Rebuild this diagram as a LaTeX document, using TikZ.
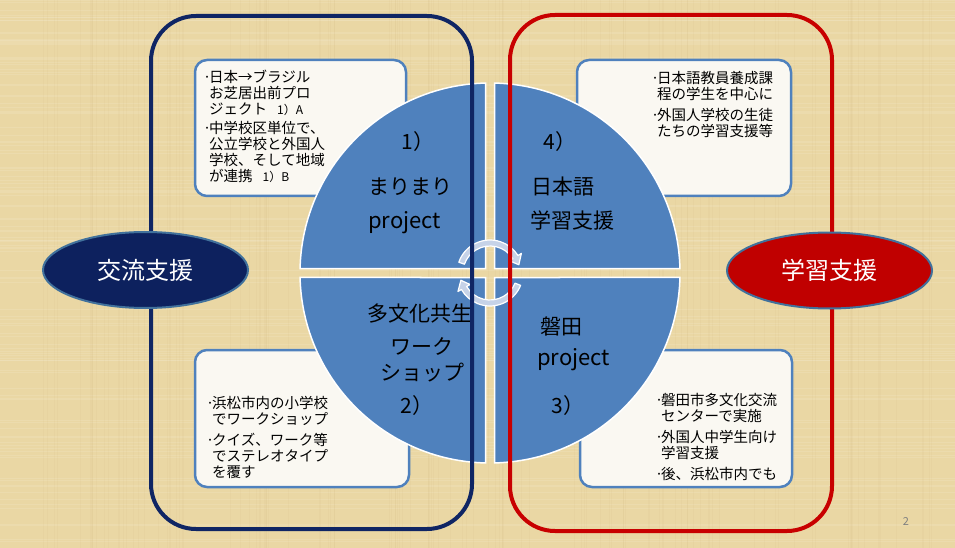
\documentclass[tikz,border=0pt]{standalone}
\usepackage{fontspec}
\setmainfont{Noto Sans CJK JP}
\usetikzlibrary{shapes.geometric}
\definecolor{bg}{RGB}{234,215,164}
\definecolor{qblue}{RGB}{79,129,189}
\definecolor{boxfill}{RGB}{250,248,242}
\definecolor{navy}{RGB}{15,37,100}
\definecolor{dred}{RGB}{200,0,0}
\definecolor{ellnavy}{RGB}{13,33,94}
\definecolor{ellred}{RGB}{192,0,0}
\definecolor{ellborder}{RGB}{65,113,156}
\definecolor{arrowfill}{RGB}{198,211,232}
\definecolor{grain}{RGB}{190,160,100}
\newcommand\bul{\makebox[6pt][l]{·}}
\newcommand\ind{\hspace*{6pt}}
\newcommand\smallnote[1]{{\fontsize{12}{12}\selectfont\hspace{10pt}#1}}
\begin{document}
\begin{tikzpicture}[x=1pt,y=-1pt,
  infobox/.style={draw=qblue, line width=2.5pt, fill=boxfill, rounded corners=12pt},
  quad/.style={fill=qblue, draw=white, line width=1.5pt},
  boxtext/.style={anchor=north west, inner sep=0pt, align=left, font=\fontsize{14.5}{16}\selectfont},
  qtext/.style={anchor=base, inner sep=0pt, font=\fontsize{21}{21}\selectfont},
  ptext/.style={anchor=base west, inner sep=0pt, font=\fontsize{22}{22}\selectfont},
  bigframe/.style={line width=4pt, rounded corners=45pt},
  tag/.style={ellipse, minimum width=205pt, minimum height=76pt, draw=ellborder, line width=2pt, text=white, font=\fontsize{24}{24}\selectfont, inner sep=0pt},
  cyc/.style={fill=arrowfill, draw=white, line width=1.2pt, line join=round}
]
\useasboundingbox (0,0) rectangle (955,548);
\fill[bg] (0,0) rectangle (955,548);
\pgfmathsetseed{7}
\foreach \i in {1,...,110}{\pgfmathsetmacro\yy{rnd*548}\pgfmathsetmacro\ww{0.3+rnd*1.0}\draw[white,opacity=0.10,line width=\ww pt] (0,\yy)--(955,\yy);}
\foreach \i in {1,...,110}{\pgfmathsetmacro\xx{rnd*955}\pgfmathsetmacro\ww{0.3+rnd*1.0}\draw[grain,opacity=0.06,line width=\ww pt] (\xx,0)--(\xx,548);}

% info boxes
\draw[infobox] (195,60) rectangle (406,196);
\draw[infobox] (577,60) rectangle (791,196);
\draw[infobox] (195,350) rectangle (409,487);
\draw[infobox] (580,350) rectangle (792,487);

% quadrants
\begin{scope}[shift={(490,273)}]
\filldraw[quad] (-4.5,-4.5) -- (268.643:190) arc[start angle=268.643, end angle=181.357, radius=190] -- cycle;
\filldraw[quad] (4.5,-4.5) -- (271.357:190) arc[start angle=271.357, end angle=358.643, radius=190] -- cycle;
\filldraw[quad] (4.5,4.5) -- (1.357:190) arc[start angle=1.357, end angle=88.643, radius=190] -- cycle;
\filldraw[quad] (-4.5,4.5) -- (91.357:190) arc[start angle=91.357, end angle=178.643, radius=190] -- cycle;
\end{scope}

% quadrant texts
\node[qtext] (n1) at (418,150) {1）};
\node[qtext, anchor=base west] (mari) at (368,194) {まりまり};
\node[ptext] (proj1) at (368,228) {project};
\node[qtext] (n4) at (560,150) {4）};
\node[qtext, anchor=base west] (nihongo) at (531,194) {日本語};
\node[qtext, anchor=base west] (gakushushien) at (530,228) {学習支援};
\node[qtext] (tabunka) at (420,321) {多文化共生};
\node[qtext] (work) at (422,354) {ワーク};
\node[qtext] (shop) at (422,380) {ショップ};
\node[qtext] (n2) at (417,413) {2）};
\node[qtext, anchor=base west] (iwata) at (540,334) {磐田};
\node[ptext] (proj3) at (537,365) {project};
\node[qtext] (n3) at (568,413) {3）};

% cycle arrows
\begin{scope}[shift={(490,273)}]
\filldraw[cyc] (199:33) arc[start angle=199, end angle=328, radius=33] -- (328:37) -- (344:30) -- (328:23) -- (328:27) arc[start angle=328, end angle=199, radius=27] -- cycle;
\filldraw[cyc] (22:33) arc[start angle=22, end angle=150, radius=33] -- (150:37) -- (166:30) -- (150:23) -- (150:27) arc[start angle=150, end angle=22, radius=27] -- cycle;
\end{scope}

% big frames
\draw[bigframe, navy] (151,16) rectangle (472,529);
\draw[bigframe, dred] (510,15) rectangle (832,531);

% ellipses
\node[tag, fill=ellnavy] (kouryu) at (145.5,270) {交流支援};
\node[tag, fill=ellred] (gakushu) at (829.5,270.5) {学習支援};

% box texts
\node[boxtext] (t1) at (203,70) {\bul 日本→ブラジル\\\ind お芝居出前プロ\\\ind ジェクト\smallnote{1）A}\\[3pt]\bul 中学校区単位で、\\\ind 公立学校と外国人\\\ind 学校、そして地域\\\ind が連携\smallnote{1）B}};
\node[boxtext] (t2) at (651,71) {\bul 日本語教員養成課\\\ind 程の学生を中心に\\[5pt]\bul 外国人学校の生徒\\\ind たちの学習支援等};
\node[boxtext] (t3) at (206,396) {\bul 浜松市内の小学校\\\ind でワークショップ\\[5pt]\bul クイズ、ワーク等\\\ind でステレオタイプ\\\ind を覆す};
\node[boxtext] (t4) at (655,393) {\bul 磐田市多文化交流\\\ind センターで実施\\[5pt]\bul 外国人中学生向け\\\ind 学習支援\\[5pt]\bul 後、浜松市内でも};

\node[text=gray, font=\fontsize{11}{11}\selectfont, inner sep=0pt] (pg) at (906,522) {2};
\end{tikzpicture}
\end{document}
